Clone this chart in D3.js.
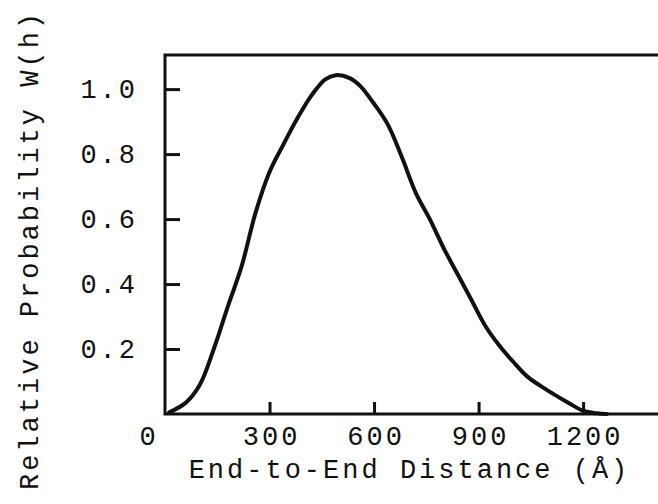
<!DOCTYPE html>
<html>
<head>
<meta charset="utf-8">
<script src="https://cdn.jsdelivr.net/npm/d3@7"></script>
<style>
  html, body { margin: 0; padding: 0; background: #fff; }
  svg { display: block; }
  text { font-family: "Liberation Mono", "DejaVu Sans Mono", monospace; fill: #111; }
</style>
</head>
<body>
<svg id="chart" width="658" height="504"></svg>
<script>
// Data
const distance = [12, 60, 100, 140, 180, 220, 260, 300, 340, 380, 420, 460, 490, 530, 560, 600, 640, 680, 720, 760, 800, 840, 880, 920, 960, 1000, 1040, 1080, 1120, 1160, 1200, 1240, 1268];
const probability = [0.005, 0.035, 0.09, 0.2, 0.33, 0.455, 0.62, 0.745, 0.83, 0.91, 0.98, 1.03, 1.043, 1.034, 1.01, 0.955, 0.89, 0.79, 0.68, 0.6, 0.51, 0.43, 0.35, 0.27, 0.21, 0.16, 0.115, 0.085, 0.058, 0.033, 0.01, 0.002, 0.0];
const xTickValues = [0, 300, 600, 900, 1200];
const yTickValues = [0.2, 0.4, 0.6, 0.8, 1.0];
const xTitle = "End-to-End Distance (Å)";
const yTitle = "Relative Probability W(h)";

const svg = d3.select("#chart");
const mLeft = 165, mRight = 658, mTop = 55, mBottom = 414;

const x = d3.scaleLinear().domain([0, 1415]).range([mLeft, mRight]);
const y = d3.scaleLinear().domain([0, 1.105]).range([mBottom, mTop]);

const FS = 27, LS = 3;

// Y axis ticks (inside) + labels
const yAxis = d3.axisLeft(y).tickValues(yTickValues).tickSize(-15).tickPadding(30)
  .tickFormat(d3.format(".1f"));
const gy = svg.append("g").attr("transform", `translate(${mLeft},0)`).call(yAxis);
gy.select(".domain").remove();
gy.selectAll(".tick line").attr("stroke", "#111").attr("stroke-width", 3);
gy.selectAll(".tick text").attr("font-size", FS).attr("letter-spacing", LS)
  .attr("dx", LS).attr("font-family", "Liberation Mono").attr("fill", "#111");

// X axis ticks (inside) + labels
const xAxis = d3.axisBottom(x).tickValues(xTickValues).tickSize(-12).tickPadding(12)
  .tickFormat(d3.format("d"));
const gx = svg.append("g").attr("transform", `translate(0,${mBottom})`).call(xAxis);
gx.select(".domain").remove();
gx.selectAll(".tick line").attr("stroke", "#111").attr("stroke-width", 3)
  .attr("opacity", d => d === 0 ? 0 : 1);
gx.selectAll(".tick text").attr("font-size", FS).attr("letter-spacing", LS)
  .attr("dx", d => d === 0 ? -18 + LS / 2 : LS / 2)
  .attr("font-family", "Liberation Mono").attr("fill", "#111");

// Frame: left, top, bottom lines
const frame = d3.path();
frame.moveTo(mRight, mTop); frame.lineTo(mLeft, mTop); frame.lineTo(mLeft, mBottom); frame.lineTo(mRight, mBottom);
svg.append("path").attr("d", frame.toString()).attr("fill", "none")
  .attr("stroke", "#111").attr("stroke-width", 3).attr("stroke-linejoin", "miter");

// Curve
const pts = distance.map((d, i) => [d, probability[i]]);
const line = d3.line().x(d => x(d[0])).y(d => y(d[1])).curve(d3.curveCatmullRom.alpha(0.5));
svg.append("path").datum(pts).attr("d", line).attr("fill", "none")
  .attr("stroke", "#111").attr("stroke-width", 4).attr("stroke-linejoin", "round").attr("stroke-linecap", "round");

// Axis titles
svg.append("text").attr("x", 408 + LS / 2).attr("y", 478).attr("text-anchor", "middle")
  .attr("font-size", FS).attr("letter-spacing", LS).text(xTitle);
svg.append("text").attr("transform", "translate(38,250) rotate(-90)").attr("text-anchor", "middle")
  .attr("font-size", FS).attr("letter-spacing", LS).text(yTitle);
</script>
</body>
</html>
